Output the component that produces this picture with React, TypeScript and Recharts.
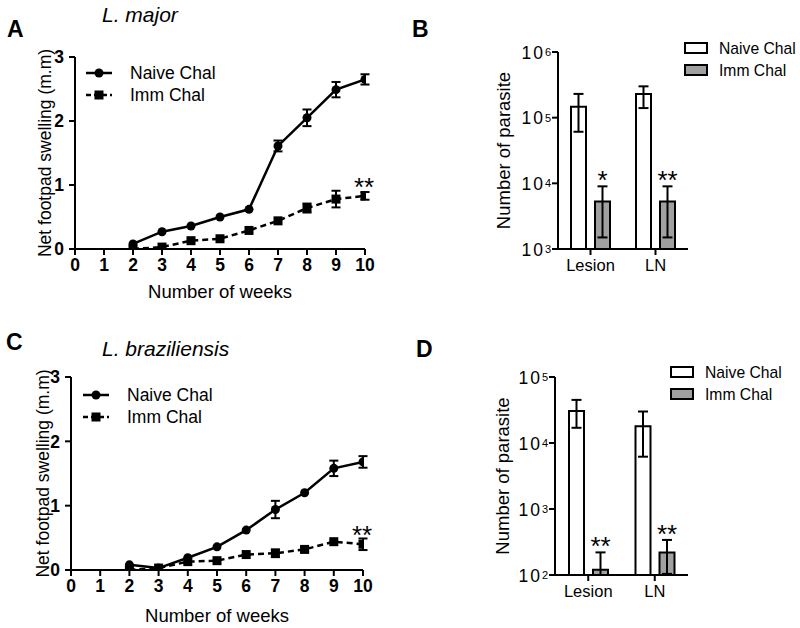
import React from "react";
import {
  LineChart,
  Line,
  BarChart,
  Bar,
  XAxis,
  YAxis,
  ErrorBar,
  LabelList,
} from "recharts";

const FONT = "'Liberation Sans', Arial, Helvetica, sans-serif";

// footpad swelling, weeks 2..10
const weeks = [2, 3, 4, 5, 6, 7, 8, 9, 10];
const weekTicks = [0, 1, 2, 3, 4, 5, 6, 7, 8, 9, 10];
const swellTicks = [0, 1, 2, 3];

const majorNaive = [0.08, 0.27, 0.36, 0.5, 0.62, 1.61, 2.05, 2.49, 2.65];
const majorNaiveErr = [null, null, null, null, null, 0.085, 0.13, 0.12, 0.08];
const majorImm = [0.0, 0.03, 0.13, 0.16, 0.29, 0.44, 0.64, 0.78, 0.83];
const majorImmErr = [null, null, null, null, null, null, 0.07, 0.13, 0.06];

const brazNaive = [0.08, 0.03, 0.19, 0.36, 0.62, 0.94, 1.2, 1.58, 1.68];
const brazNaiveErr = [null, null, null, null, null, 0.135, null, 0.12, 0.09];
const brazImm = [0.0, 0.03, 0.13, 0.145, 0.24, 0.26, 0.32, 0.44, 0.4];
const brazImmErr = [null, null, null, null, null, 0.06, 0.04, null, 0.09];

const lineSig = "**";

// parasite burden
const sites = ["Lesion", "LN"];

const majorSiteNaive = [147000, 230000];
const majorSiteNaiveLow = [61000, 140000];
const majorSiteNaiveHigh = [230000, 300000];
const majorSiteImm = [5300, 5300];
const majorSiteImmLow = [1500, 1500];
const majorSiteImmHigh = [9000, 9000];
const majorSiteSig = ["*", "**"];
const majorLogTicks = [1e3, 1e4, 1e5, 1e6];

const brazSiteNaive = [30500, 18000];
const brazSiteNaiveLow = [17000, 6200];
const brazSiteNaiveHigh = [45000, 30000];
const brazSiteImm = [120, 220];
const brazSiteImmLow = [100, 104];
const brazSiteImmHigh = [220, 340];
const brazSiteSig = ["**", "**"];
const brazLogTicks = [1e2, 1e3, 1e4, 1e5];

const boldTick = { fill: "#000", fontSize: 17.5, fontWeight: "bold", fontFamily: FONT };
const plainTick = { fill: "#000", fontSize: 16.5, fontFamily: FONT };
const axisStroke = { stroke: "#000", strokeWidth: 2 };

const squareDot = (p: any) => (
  <rect key={`sq-${p.index}`} x={p.cx - 4.5} y={p.cy - 4.5} width={9} height={9} fill="#000" />
);

// "10" with a raised exponent, as one text so the parts never overlap
const PowerTick = (props: any) => {
  const { x, y, payload } = props;
  const exp = Math.round(Math.log10(payload.value));
  return (
    <text x={x - 1} y={y + 6.5} textAnchor="end" fontFamily={FONT} fill="#000" fontSize={17.5}>
      <tspan letterSpacing={2}>10</tspan>
      <tspan fontSize={11} dy={-2.5}>{exp}</tspan>
    </text>
  );
};

const yTitle = (text: string, dist: number, size: number) => ({
  content: (p: any) => {
    const vb = p.viewBox;
    const cx = vb.x + vb.width - dist;
    const cy = vb.y + vb.height / 2;
    return (
      <text
        x={cx}
        y={cy}
        transform={`rotate(-90 ${cx} ${cy})`}
        textAnchor="middle"
        dominantBaseline="central"
        fontSize={size}
        fontFamily={FONT}
        fill="#000"
      >
        {text}
      </text>
    );
  },
});

const xTitle = (text: string, dy: number) => ({
  content: (p: any) => {
    const vb = p.viewBox;
    return (
      <text
        x={vb.x + vb.width / 2}
        y={vb.y + dy}
        textAnchor="middle"
        fontSize={18.5}
        fontFamily={FONT}
        fill="#000"
      >
        {text}
      </text>
    );
  },
});

type SwellProps = {
  left: number;
  top: number;
  height: number;
  margin: { top: number; right: number; bottom: number; left: number };
  naive: number[];
  naiveErr: (number | null)[];
  imm: number[];
  immErr: (number | null)[];
  titleDist: number;
  xTitleDy: number;
};

const SwellingChart = ({ left, top, height, margin, naive, naiveErr, imm, immErr, titleDist, xTitleDy }: SwellProps) => {
  const rows = weeks.map((week, i) => ({
    week,
    naive: naive[i],
    naiveErr: naiveErr[i],
    imm: imm[i],
    immErr: immErr[i],
    sig: i === weeks.length - 1 ? lineSig : "",
  }));
  return (
    <div style={{ position: "absolute", left, top }}>
      <LineChart width={400} height={height} data={rows} margin={margin}>
        <XAxis
          type="number"
          dataKey="week"
          domain={[0, 10]}
          ticks={weekTicks}
          allowDataOverflow
          interval={0}
          height={50}
          tick={boldTick}
          tickSize={6}
          tickMargin={4}
          axisLine={axisStroke}
          tickLine={axisStroke}
          label={xTitle("Number of weeks", xTitleDy)}
        />
        <YAxis
          type="number"
          domain={[0, 3]}
          ticks={swellTicks}
          allowDataOverflow
          width={40}
          tick={boldTick}
          tickSize={6}
          tickMargin={5}
          axisLine={axisStroke}
          tickLine={axisStroke}
          label={yTitle("Net footpad swelling (m.m)", titleDist, 17.5)}
        />
        <Line
          dataKey="naive"
          stroke="#000"
          strokeWidth={2.5}
          dot={{ r: 4.5, fill: "#000", stroke: "none" }}
          activeDot={false}
          isAnimationActive={false}
        >
          <ErrorBar dataKey="naiveErr" direction="y" width={4.5} stroke="#000" strokeWidth={2} isAnimationActive={false} />
        </Line>
        <Line
          dataKey="imm"
          stroke="#000"
          strokeWidth={2.5}
          strokeDasharray="6 4"
          dot={squareDot}
          activeDot={false}
          isAnimationActive={false}
        >
          <ErrorBar dataKey="immErr" direction="y" width={4.5} stroke="#000" strokeWidth={2} isAnimationActive={false} />
          <LabelList
            dataKey="sig"
            content={(p: any) => {
              if (!p.value) return null;
              const vb = p.viewBox || p;
              return (
                <text x={vb.x - 1} y={vb.y} textAnchor="middle" fontSize={26} fontFamily={FONT} fill="#000">
                  {p.value}
                </text>
              );
            }}
          />
        </Line>
      </LineChart>
    </div>
  );
};

type SiteProps = {
  top: number;
  height: number;
  margin: { top: number; right: number; bottom: number; left: number };
  naive: number[];
  naiveLow: number[];
  naiveHigh: number[];
  imm: number[];
  immLow: number[];
  immHigh: number[];
  sig: string[];
  ticks: number[];
  titleDist: number;
};

const SiteChart = ({ top, height, margin, naive, naiveLow, naiveHigh, imm, immLow, immHigh, sig, ticks, titleDist }: SiteProps) => {
  const rows = sites.map((site, i) => ({
    site,
    naive: naive[i],
    naiveErr: [naive[i] - naiveLow[i], naiveHigh[i] - naive[i]],
    imm: imm[i],
    immErr: [imm[i] - immLow[i], immHigh[i] - imm[i]],
    sig: sig[i],
  }));
  const base = ticks[0];
  return (
    <div style={{ position: "absolute", left: 400, top }}>
      <BarChart width={400} height={height} data={rows} margin={margin} barSize={15} barGap={9}>
        <XAxis
          dataKey="site"
          height={30}
          tick={plainTick}
          tickSize={6}
          tickMargin={4}
          axisLine={axisStroke}
          tickLine={axisStroke}
        />
        <YAxis
          scale="log"
          type="number"
          domain={[ticks[0], ticks[ticks.length - 1]]}
          ticks={ticks}
          allowDataOverflow
          interval={0}
          width={60}
          tick={<PowerTick />}
          tickSize={6}
          tickMargin={0}
          axisLine={axisStroke}
          tickLine={axisStroke}
          label={yTitle("Number of parasite", titleDist, 18.5)}
        />
        <Bar dataKey="naive" fill="#fff" stroke="#000" strokeWidth={2} isAnimationActive={false}>
          <ErrorBar dataKey="naiveErr" direction="y" width={5} stroke="#000" strokeWidth={2} isAnimationActive={false} />
        </Bar>
        <Bar dataKey="imm" fill="#a0a0a0" stroke="#000" strokeWidth={2} isAnimationActive={false}>
          <ErrorBar dataKey="immErr" direction="y" width={5} stroke="#000" strokeWidth={2} isAnimationActive={false} />
          <LabelList
            dataKey="sig"
            content={(p: any) => {
              if (!p.value) return null;
              const vb = p.viewBox || p;
              const i = p.index;
              const perDecade = vb.height / Math.log10(imm[i] / base);
              const errTop = vb.y - Math.log10(immHigh[i] / imm[i]) * perDecade;
              return (
                <text x={vb.x + vb.width / 2} y={errTop + 3} textAnchor="middle" fontSize={26} fontFamily={FONT} fill="#000">
                  {p.value}
                </text>
              );
            }}
          />
        </Bar>
      </BarChart>
    </div>
  );
};

const LineLegend = ({ x, y }: { x: number; y: number }) => (
  <g fontFamily={FONT} fontSize={17.5} fill="#000">
    <line x1={x} y1={y} x2={x + 26} y2={y} stroke="#000" strokeWidth={2.5} />
    <circle cx={x + 13} cy={y} r={4.5} fill="#000" />
    <text x={x + 44} y={y} dominantBaseline="central">Naive Chal</text>
    <line x1={x} y1={y + 22} x2={x + 26} y2={y + 22} stroke="#000" strokeWidth={2.5} strokeDasharray="5 3" />
    <rect x={x + 8.5} y={y + 17.5} width={9} height={9} fill="#000" />
    <text x={x + 44} y={y + 22} dominantBaseline="central">Imm Chal</text>
  </g>
);

const BoxLegend = ({ x, y }: { x: number; y: number }) => (
  <g fontFamily={FONT} fontSize={15.7} fill="#000">
    <rect x={x} y={y - 5} width={22} height={10} fill="#fff" stroke="#000" strokeWidth={2} />
    <text x={x + 34} y={y} dominantBaseline="central">Naive Chal</text>
    <rect x={x} y={y + 17} width={22} height={10} fill="#a0a0a0" stroke="#000" strokeWidth={2} />
    <text x={x + 34} y={y + 22} dominantBaseline="central">Imm Chal</text>
  </g>
);

const App = () => {
  return (
    <div style={{ position: "absolute", left: 0, top: 0, width: 800, height: 628, background: "#fff" }}>
      <SwellingChart
        left={0}
        top={0}
        height={310}
        margin={{ top: 57, right: 35, bottom: 11, left: 35 }}
        naive={majorNaive}
        naiveErr={majorNaiveErr}
        imm={majorImm}
        immErr={majorImmErr}
        titleDist={30}
        xTitleDy={49}
      />
      <SwellingChart
        left={0}
        top={320}
        height={308}
        margin={{ top: 57, right: 37, bottom: 8, left: 31 }}
        naive={brazNaive}
        naiveErr={brazNaiveErr}
        imm={brazImm}
        immErr={brazImmErr}
        titleDist={28}
        xTitleDy={52}
      />
      <SiteChart
        top={0}
        height={310}
        margin={{ top: 52, right: 112, bottom: 31, left: 98 }}
        naive={majorSiteNaive}
        naiveLow={majorSiteNaiveLow}
        naiveHigh={majorSiteNaiveHigh}
        imm={majorSiteImm}
        immLow={majorSiteImmLow}
        immHigh={majorSiteImmHigh}
        sig={majorSiteSig}
        ticks={majorLogTicks}
        titleDist={55}
      />
      <SiteChart
        top={320}
        height={308}
        margin={{ top: 57, right: 112, bottom: 23, left: 95 }}
        naive={brazSiteNaive}
        naiveLow={brazSiteNaiveLow}
        naiveHigh={brazSiteNaiveHigh}
        imm={brazSiteImm}
        immLow={brazSiteImmLow}
        immHigh={brazSiteImmHigh}
        sig={brazSiteSig}
        ticks={brazLogTicks}
        titleDist={53}
      />
      <svg width={800} height={628} style={{ position: "absolute", left: 0, top: 0, pointerEvents: "none" }}>
        <g fontFamily={FONT} fill="#000">
          <text x={7} y={37} fontSize={23} fontWeight="bold">A</text>
          <text x={102} y={22} fontSize={21} fontStyle="italic">L. major</text>
          <text x={412} y={37} fontSize={23} fontWeight="bold">B</text>
          <text x={6} y={350} fontSize={23} fontWeight="bold">C</text>
          <text x={102} y={356} fontSize={21} fontStyle="italic">L. braziliensis</text>
          <text x={416} y={357} fontSize={23} fontWeight="bold">D</text>
        </g>
        <LineLegend x={86} y={73} />
        <LineLegend x={83} y={395} />
        <BoxLegend x={685} y={48} />
        <BoxLegend x={671} y={372} />
      </svg>
    </div>
  );
};

export default App;
